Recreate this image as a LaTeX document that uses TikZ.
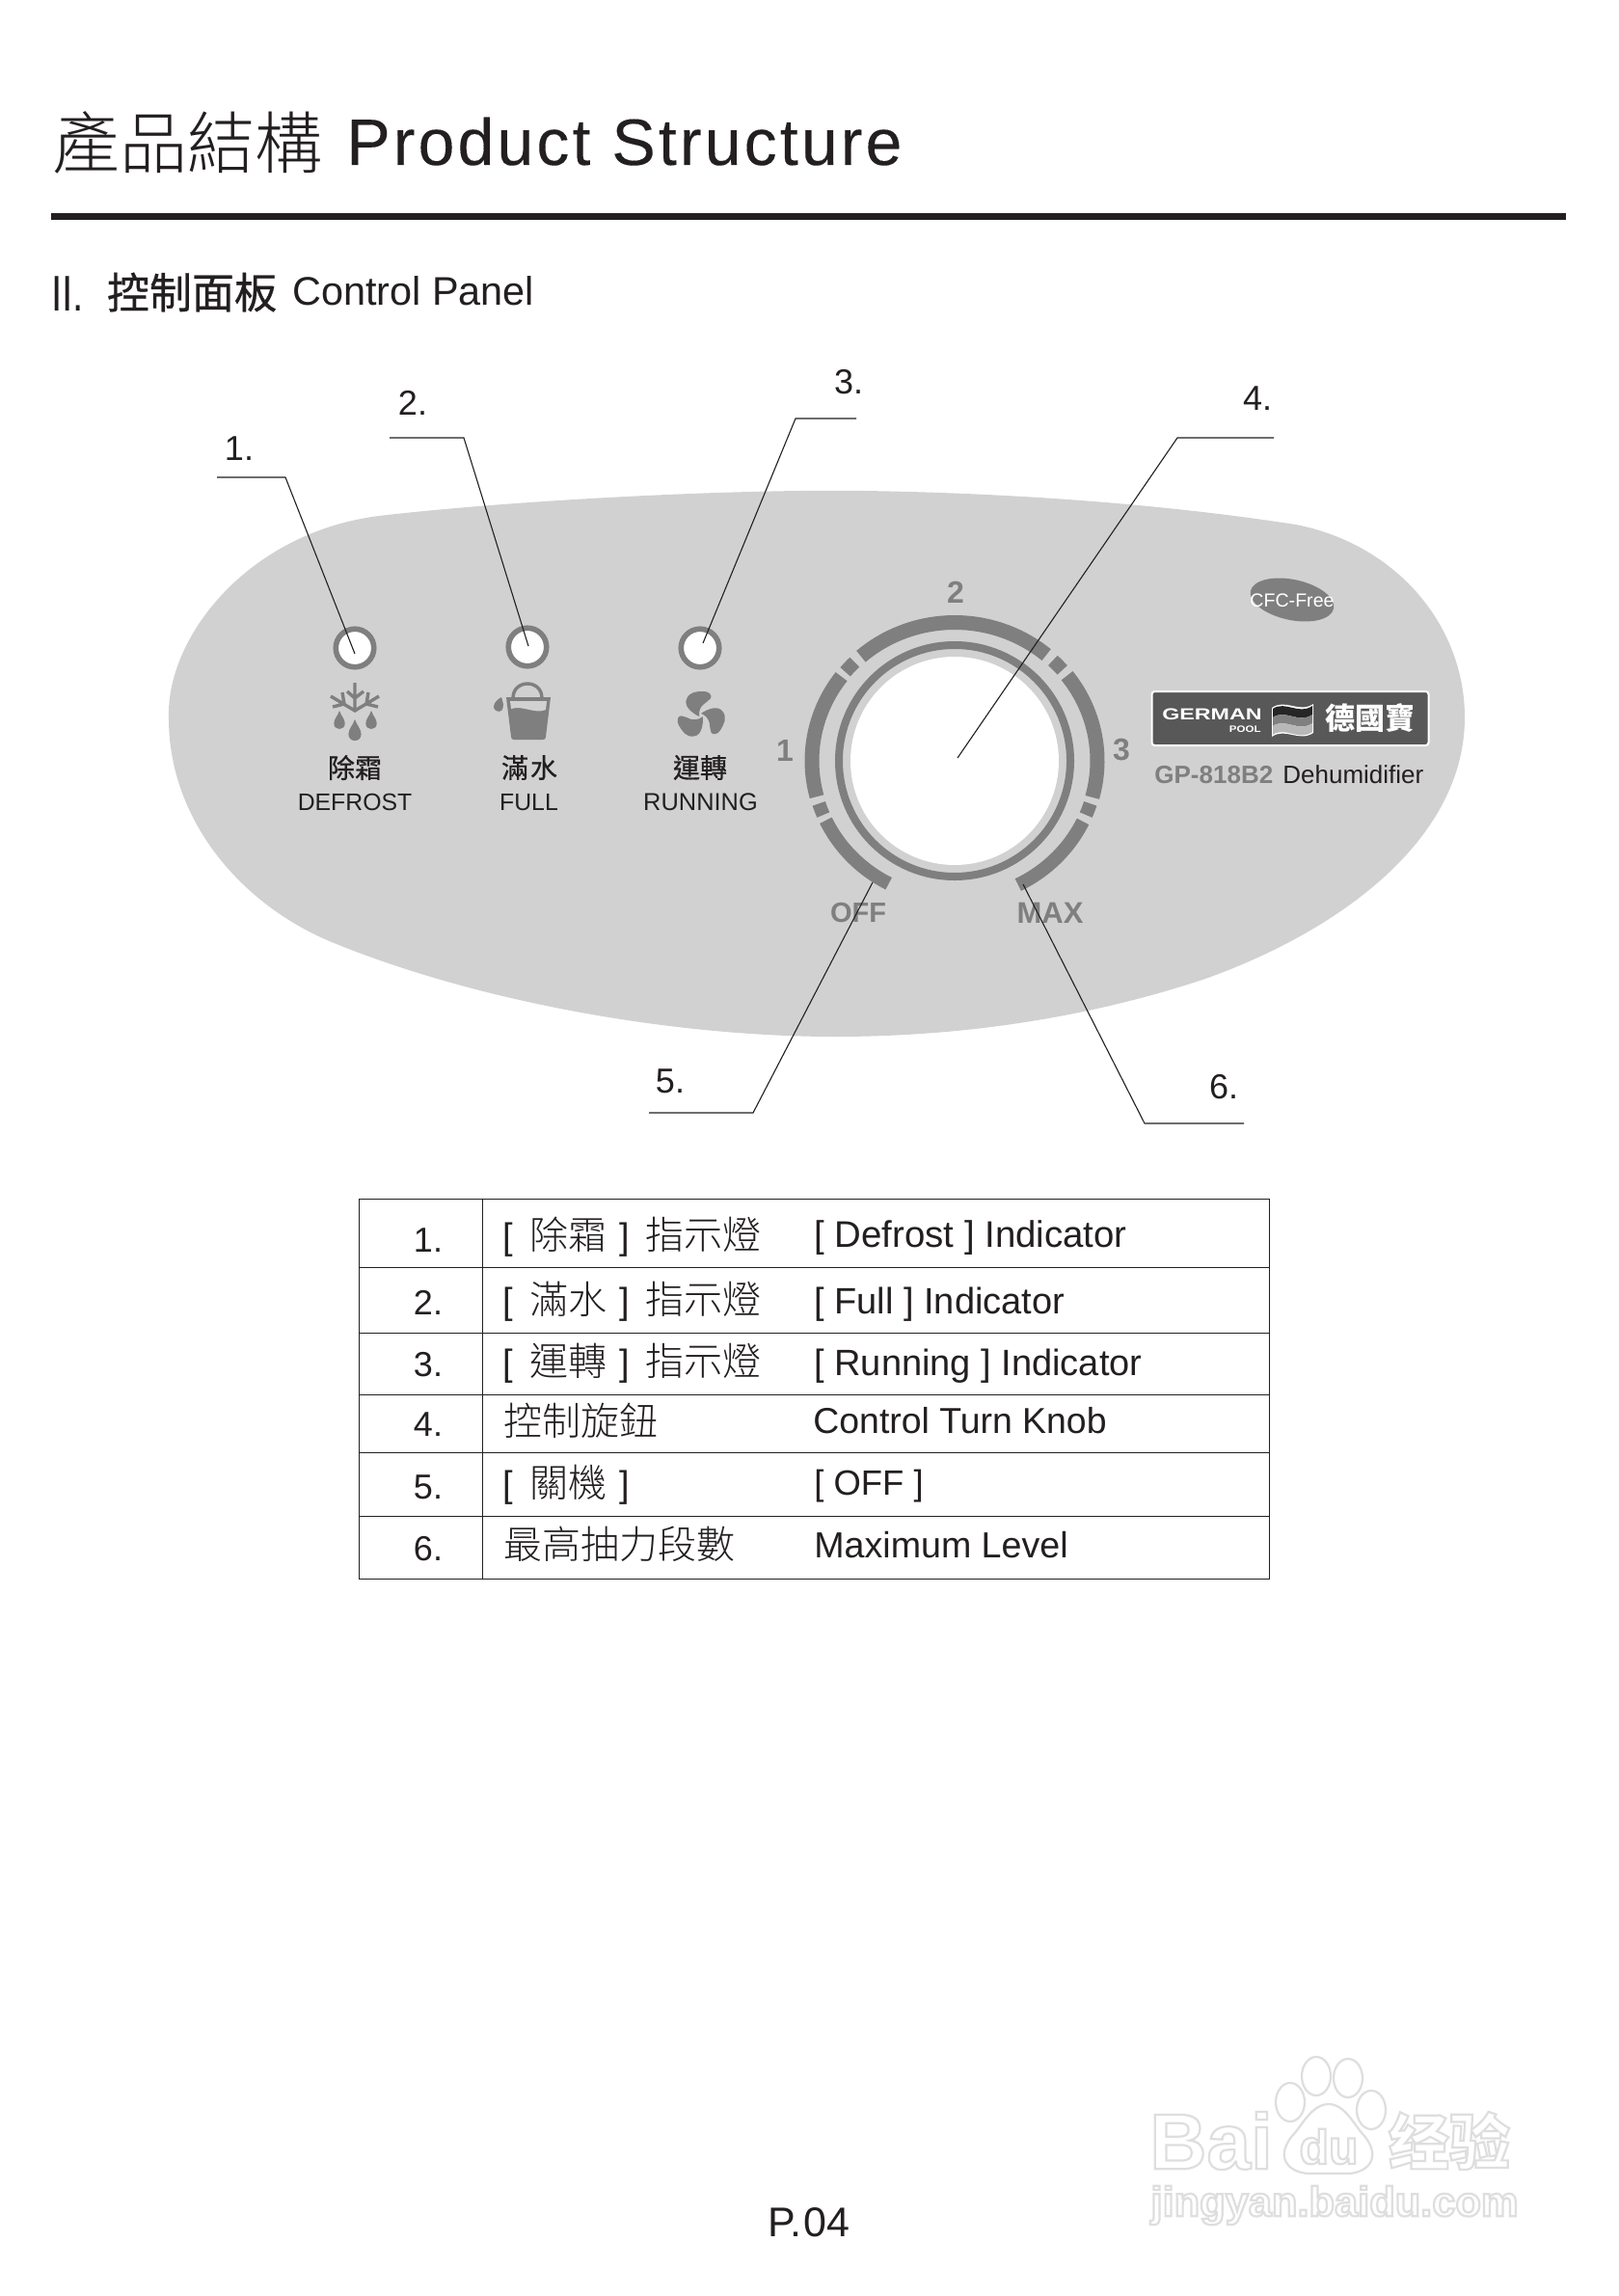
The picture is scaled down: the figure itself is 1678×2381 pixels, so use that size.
\documentclass[tikz,border=0pt]{standalone}
\usepackage{fontspec}
\setmainfont{Liberation Sans}
\newfontfamily\cjk{Noto Sans CJK TC}
\newfontfamily\cjkb[FakeBold=0.7]{Noto Sans CJK TC}
\newfontfamily\cjksc{Noto Sans CJK SC}
\newfontfamily\spaced[LetterSpace=4.6,FakeBold=0.15]{Liberation Sans}
\IfFontExistsTF{Noto Sans CJK TC Light}{\newfontfamily\cjkl{Noto Sans CJK TC Light}}{\newfontfamily\cjkl{Noto Sans CJK TC}}
\usetikzlibrary{shapes.geometric,calc}
\definecolor{panelgray}{HTML}{D1D1D1}
\definecolor{markgray}{HTML}{7F7F7F}
\definecolor{logogray}{HTML}{585858}
\definecolor{ink}{HTML}{231F20}
\newcommand{\fs}[1]{\fontsize{#1}{#1}\selectfont}
\newcommand{\wmark}[1]{\special{pdf:code 2 Tr 1.1 w 0.87 G 1 g}#1\special{pdf:code 0 Tr}}
\newcommand{\zh}[1]{{\cjkl\fs{20}#1}}
\tikzset{
  leader/.style={draw=ink,line width=0.55pt},
  calloutnum/.style={text=ink,font=\fs{18},anchor=center,inner sep=0pt},
  tablerule/.style={draw=ink,line width=0.45pt},
  rownum/.style={text=ink,font=\fs{18},anchor=base,inner sep=0pt},
  cell/.style={text=ink,font=\fs{19},anchor=base west,inner sep=0pt},
  ledlabel/.style={text=ink,font=\fs{12.4},anchor=center,inner sep=0pt},
  ledcjk/.style={text=ink,font={\cjkb\fs{14}},anchor=center,inner sep=0pt},
  dial/.style={text=markgray,font={\bfseries\fs{16}},anchor=center,inner sep=0pt},
  ledring/.style={circle,draw=markgray,fill=white,line width=2.8pt,minimum size=19.75pt,inner sep=0pt},
  arcband/.style={draw=markgray,line width=7.5pt},
  lowband/.style={draw=markgray,line width=7pt},
  dialtick/.style={draw=markgray,line width=7pt},
  iconline/.style={draw=markgray,line width=1.7pt},
  wm/.style={inner sep=0pt,anchor=center},
  pawtoe/.style={draw=black!13,line width=1.1pt,fill=white}
}
\begin{document}
\begin{tikzpicture}[x=0.5pt,y=-0.5pt]
\useasboundingbox (0,0) rectangle (1678,2381);
\fill[white] (0,0) rectangle (1678,2381);

% header
\node[anchor=base west,inner sep=0pt,text=ink] (titlezh) at (54,175) {\cjkl\fs{35}產品結構};
\node[anchor=base west,inner sep=0pt,text=ink] (titleen) at (359,171) {\spaced\fs{34}Product Structure};
\fill[ink] (53,221) rectangle (1624,228);
\node[anchor=base west,inner sep=0pt,text=ink] (subnum) at (53,322) {\fs{26}\scalebox{.78}[1]{II.}};
\node[anchor=center,inner sep=0pt,text=ink] (subzh) at (199,303) {\cjkb\fs{22}控制面板};
\node[anchor=base west,inner sep=0pt,text=ink] (suben) at (303,316) {\fs{20.7}Control Panel};

% panel
\fill[panelgray] (175,745)
  .. controls (172,660) and (258,552) .. (393,535)
  .. controls (520,520) and (750,507) .. (896,509)
  .. controls (1090,512) and (1240,528) .. (1344,544)
  .. controls (1450,565) and (1519,650) .. (1519,744)
  .. controls (1519,870) and (1390,965) .. (1250,1015)
  .. controls (1130,1055) and (1000,1075) .. (866,1075)
  .. controls (700,1075) and (500,1040) .. (349,979)
  .. controls (250,940) and (175,850) .. (175,745) -- cycle;

% LEDs
\node[ledring] (led1) at (368,672) {};
\node[ledring] (led2) at (547,671) {};
\node[ledring] (led3) at (726,672) {};

% snowflake
\draw[iconline] (368,708) -- (368,737) (360,717) -- (368,724) -- (377,717)
  (343,722) -- (368,737) -- (393,722)
  (355,718) -- (357,730) -- (345,733)
  (382,718) -- (380,730) -- (392,733);
\foreach \dx/\dy/\s in {352/746.5/0.95, 385/746.5/0.95, 368/757/1.1}{
  \fill[markgray] (\dx,\dy-10*\s) .. controls (\dx+2*\s,\dy-4*\s) and (\dx+6*\s,\dy-1*\s) .. (\dx+6*\s,\dy+4*\s)
    .. controls (\dx+6*\s,\dy+12*\s) and (\dx-6*\s,\dy+12*\s) .. (\dx-6*\s,\dy+4*\s)
    .. controls (\dx-6*\s,\dy-1*\s) and (\dx-2*\s,\dy-4*\s) .. (\dx,\dy-10*\s) -- cycle;
}
% bucket
\draw[iconline] (532,724) .. controls (532,704) and (562,704) .. (562,724);
\fill[markgray] (525,723) -- (571,723) -- (566,764) .. controls (566,766) and (565,767) .. (563,767) -- (533,767) .. controls (531,767) and (530,766) .. (530,764) -- cycle;
\fill[panelgray] (529,727) -- (567,727) -- (566,736) .. controls (555,741) and (542,731) .. (530,735) -- cycle;
\fill[markgray] (520,723) .. controls (522,729) and (523,733) .. (520,737) .. controls (517,739) and (512,737) .. (512,733) .. controls (512,729) and (516,725) .. (520,723) -- cycle;
% fan
\foreach \ang in {0,120,240}{
  \begin{scope}[shift={(727,742)},rotate=\ang]
    \fill[markgray] (-2,1) .. controls (-10,-3) and (-18,-10) .. (-15,-17)
      .. controls (-12,-25) and (-4,-25) .. (3,-25)
      .. controls (8,-25) and (12,-21) .. (10,-18)
      .. controls (7,-13) and (-3,-12) .. (-2,1) -- cycle;
  \end{scope}
}

% LED labels
\node[ledcjk] (l1c) at (368,796) {除霜};
\node[ledlabel] (l1e) at (368,832) {DEFROST};
\node[ledcjk] (l2c) at (549,796) {滿\hspace{1pt}水};
\node[ledlabel] (l2e) at (548.5,832) {FULL};
\node[ledcjk] (l3c) at (726,796) {運轉};
\node[ledlabel,font=\fs{12.7}] (l3e) at (726.5,832) {RUNNING};

% knob
\def\cx{990}\def\cy{789}
\fill[panelgray] (\cx,\cy) circle[radius=120];
\draw[draw=markgray,line width=4pt] (\cx,\cy) circle[radius=120];
\fill[white] (\cx,\cy) circle[radius=108];
\def\rx{148}\def\ry{143.5}
\draw[arcband] plot[domain=50:131,samples=40] ({\cx+\rx*cos(\x)},{\cy-\ry*sin(\x)});
\draw[arcband] plot[domain=142.5:195,samples=30] ({\cx+\rx*cos(\x)},{\cy-\ry*sin(\x)});
\draw[arcband] plot[domain=38:-15.3,samples=30] ({\cx+\rx*cos(\x)},{\cy-\ry*sin(\x)});
\draw[dialtick] plot[domain=134.5:140,samples=5] ({\cx+\rx*cos(\x)},{\cy-\ry*sin(\x)});
\draw[dialtick] plot[domain=41:46.5,samples=5] ({\cx+\rx*cos(\x)},{\cy-\ry*sin(\x)});
\draw[dialtick] plot[domain=198:203,samples=5] ({\cx+\rx*cos(\x)},{\cy-\ry*sin(\x)});
\draw[dialtick] plot[domain=-18:-23,samples=5] ({\cx+\rx*cos(\x)},{\cy-\ry*sin(\x)});
\draw[lowband] plot[domain=205.5:242.5,samples=24] ({\cx+\rx*cos(\x)},{\cy-\ry*sin(\x)});
\draw[lowband] plot[domain=-26:-63.6,samples=24] ({\cx+\rx*cos(\x)},{\cy-\ry*sin(\x)});
\node[dial] (d1) at (814,778) {1};
\node[dial] (d2) at (991,614) {2};
\node[dial] (d3) at (1163,778) {3};
\node[dial,font={\bfseries\fs{14.5}}] (doff) at (890,947) {OFF};
\node[dial,font={\bfseries\fs{15.5}}] (dmax) at (1089,947) {MAX};

% CFC-free
\node[ellipse,fill=markgray,rotate=-12,minimum width=44pt,minimum height=21pt,inner sep=0pt] (cfc) at (1340,622) {};
\node[text=white,font=\fs{9.8},inner sep=0pt] (cfct) at (1340,622.5) {CFC-Free};

% logo
\node[draw=white,fill=logogray,line width=1pt,rounded corners=1.5pt,minimum width=143.5pt,minimum height=28pt,inner sep=0pt] (logobox) at (1338,745) {};
\node[text=white,font={\bfseries\fs{8.3}},anchor=base east,inner sep=0pt] (german) at (1309,746) {\scalebox{1.4}[1]{GERMAN}};
\node[text=white,font={\bfseries\fs{4.8}},anchor=base east,inner sep=0pt] (pool) at (1308,759) {\scalebox{1.2}[1]{POOL}};
\fill[white] (1319,734) .. controls (1333,724) and (1347,740) .. (1362,730) -- (1362,760) .. controls (1347,770) and (1333,754) .. (1319,764) -- cycle;
\fill[black!85] (1320,735) .. controls (1333,726) and (1347,742) .. (1361,732) -- (1361,741) .. controls (1347,751) and (1333,735) .. (1320,744) -- cycle;
\fill[black!50] (1320,744) .. controls (1333,735) and (1347,751) .. (1361,741) -- (1361,750) .. controls (1347,760) and (1333,744) .. (1320,753) -- cycle;
\fill[black!28] (1320,753) .. controls (1333,744) and (1347,760) .. (1361,750) -- (1361,759) .. controls (1347,769) and (1333,753) .. (1320,762) -- cycle;
\node[text=white,font={\cjk\bfseries\fs{15.5}},inner sep=0pt] (brand) at (1421,745) {德國寶};
\node[anchor=base west,inner sep=0pt,text=markgray,font={\bfseries\fs{13}}] (model) at (1197,812) {GP-818B2};
\node[anchor=base west,inner sep=0pt,text=ink,font=\fs{13}] (modelb) at (1330,812) {Dehumidifier};

% callouts
\coordinate (c1a) at (225,495); \coordinate (c1b) at (296,495); \coordinate (c1c) at (368,678);
\coordinate (c2a) at (404,454); \coordinate (c2b) at (481,454); \coordinate (c2c) at (548,670);
\coordinate (c3a) at (888,434); \coordinate (c3b) at (825,434); \coordinate (c3c) at (729,667);
\coordinate (c4a) at (1321,454); \coordinate (c4b) at (1221,454); \coordinate (c4c) at (993,786);
\coordinate (c5a) at (673,1154); \coordinate (c5b) at (781,1154); \coordinate (c5c) at (905,915);
\coordinate (c6a) at (1290,1165); \coordinate (c6b) at (1187,1165); \coordinate (c6c) at (1061,917);
\draw[leader] (c1a) -- (c1b) -- (c1c);
\draw[leader] (c2a) -- (c2b) -- (c2c);
\draw[leader] (c3a) -- (c3b) -- (c3c);
\draw[leader] (c4a) -- (c4b) -- (c4c);
\draw[leader] (c5a) -- (c5b) -- (c5c);
\draw[leader] (c6a) -- (c6b) -- (c6c);
\node[calloutnum] (n1) at (248,465) {1.};
\node[calloutnum] (n2) at (428,418) {2.};
\node[calloutnum] (n3) at (880,396) {3.};
\node[calloutnum] (n4) at (1304,413) {4.};
\node[calloutnum] (n5) at (695,1121) {5.};
\node[calloutnum] (n6) at (1269,1127) {6.};

% table
\draw[tablerule] (372,1243) rectangle (1316,1637);
\draw[tablerule] (500,1243) -- (500,1637);
\foreach \ry in {1314,1382,1446,1506,1572}{\draw[tablerule] (372,\ry) -- (1316,\ry);}
\node[rownum] (t1n) at (444,1298) {1.};
\node[rownum] (t2n) at (444,1363) {2.};
\node[rownum] (t3n) at (444,1427) {3.};
\node[rownum] (t4n) at (444,1489) {4.};
\node[rownum] (t5n) at (444,1554) {5.};
\node[rownum] (t6n) at (444,1618) {6.};
\node[cell] (t1a) at (521,1295) {[\hspace{8.8pt}\zh{除霜}\hspace{6.5pt}]\hspace{8.3pt}\zh{指示燈}};
\node[cell] (t2a) at (521,1362) {[\hspace{8.8pt}\zh{滿水}\hspace{6.5pt}]\hspace{8.3pt}\zh{指示燈}};
\node[cell] (t3a) at (521,1426) {[\hspace{8.8pt}\zh{運轉}\hspace{6.5pt}]\hspace{8.3pt}\zh{指示燈}};
\node[cell] (t4a) at (522,1488) {\zh{控制旋鈕}};
\node[cell] (t5a) at (521,1552) {[\hspace{8.8pt}\zh{關機}\hspace{6.5pt}]};
\node[cell] (t6a) at (522,1616) {\zh{最高抽力段數}};
\node[cell,font=\fs{19.2}] (t1b) at (844,1293) {[ Defrost ] Indicator};
\node[cell] (t2b) at (844,1362) {[ Full ] Indicator};
\node[cell] (t3b) at (844,1426) {[ Running ] Indicator};
\node[cell,font=\fs{18.7}] (t4b) at (843,1486) {Control Turn Knob};
\node[cell,font=\fs{18.2}] (t5b) at (844,1550) {[ OFF ]};
\node[cell,font=\fs{18.8}] (t6b) at (844,1615) {Maximum Level};

% page number
\node[text=ink,font=\fs{21.5},inner sep=0pt] (page) at (839,2305) {P.\hspace{1pt}04};

% watermark
\node[wm] (wmbai) at (1256,2220) {\fs{41}\bfseries\wmark{Bai}};
\draw[pawtoe] (1338,2180) ellipse[x radius=15,y radius=20];
\draw[pawtoe] (1365,2153) ellipse[x radius=15,y radius=20];
\draw[pawtoe] (1398,2155) ellipse[x radius=15,y radius=20];
\draw[pawtoe] (1422,2188) ellipse[x radius=15,y radius=20];
\draw[pawtoe] (1378,2182) .. controls (1395,2182) and (1405,2205) .. (1415,2215)
  .. controls (1435,2240) and (1415,2255) .. (1395,2254) -- (1361,2254)
  .. controls (1340,2255) and (1320,2240) .. (1340,2215)
  .. controls (1350,2205) and (1360,2182) .. (1378,2182) -- cycle;
\node[wm] (wmdu) at (1378,2226) {\fs{25}\bfseries\wmark{du}};
\node[wm] (wmjy) at (1503,2220) {\cjksc\bfseries\fs{31.5}\wmark{经验}};
\node[wm] (wmurl) at (1384,2287) {\fs{21.7}\bfseries\wmark{jingyan.baidu.com}};
\end{tikzpicture}
\end{document}
